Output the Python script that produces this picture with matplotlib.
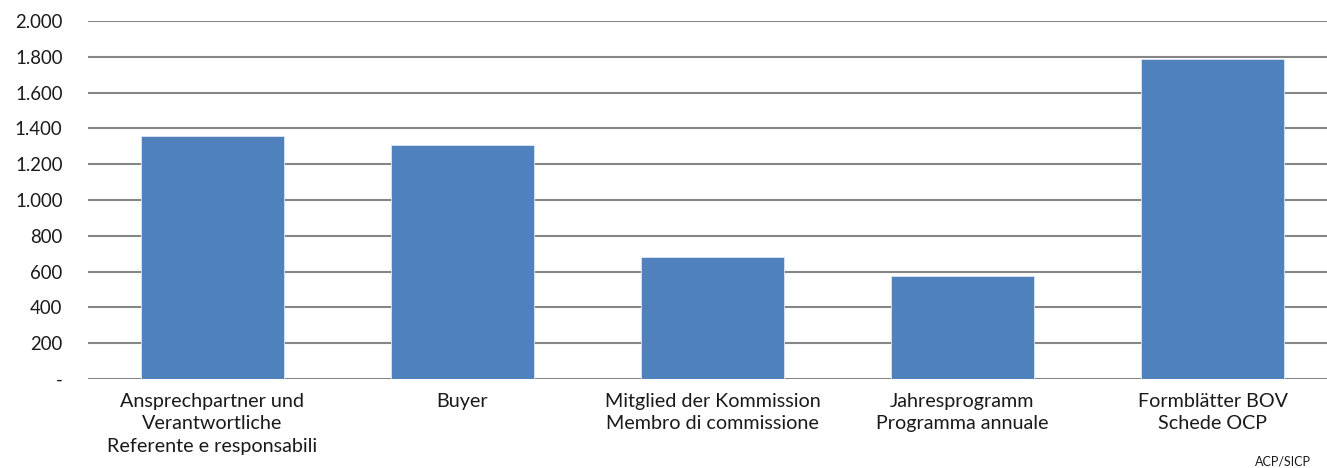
import numpy as np
import matplotlib.pyplot as plt

# Data
categories = ['Ansprechpartner und\nVerantwortliche\nReferente e responsabili',
              'Buyer',
              'Mitglied der Kommission\nMembro di commissione',
              'Jahresprogramm\nProgramma annuale',
              'Formblätter BOV\nSchede OCP']
values = [1357, 1307, 683, 574, 1788]
yticks = [0, 200, 400, 600, 800, 1000, 1200, 1400, 1600, 1800, 2000]
ytick_labels = ['-', '200', '400', '600', '800', '1.000', '1.200', '1.400',
                '1.600', '1.800', '2.000']

plt.rcParams['font.family'] = ['Lato', 'DejaVu Sans']

fig = plt.figure(figsize=(13.27, 4.68), dpi=100)
ax = fig.add_axes([87.5 / 1327, 89 / 468, 1 - 87.5 / 1327, 358 / 468])

x = np.arange(len(categories))
ax.bar(x, values, width=0.572, color='#4F81BD', edgecolor='#DCE6F2',
       linewidth=0.6, zorder=3)

ax.set_ylim(0, 2000)
ax.set_xlim(-0.5, (1327 - 87.5) / 250 - 0.5)
ax.set_yticks(yticks)
ax.set_yticklabels(ytick_labels)
ax.set_xticks(x)
ax.set_xticklabels(categories, linespacing=1.38)
ax.tick_params(axis='y', length=0, pad=18, labelsize=13.4, colors='#1a1a1a')
ax.tick_params(axis='x', length=0, pad=10, labelsize=14.2, colors='#1a1a1a')
ax.yaxis.grid(True, color='#868686', linewidth=1.5, zorder=0)
for s in ax.spines.values():
    s.set_visible(False)

fig.text(1283 / 1327, 0.0, 'ACP/SICP', fontsize=9, ha='center',
         va='bottom', color='#1a1a1a')

fig.savefig('out.png', dpi=100)
